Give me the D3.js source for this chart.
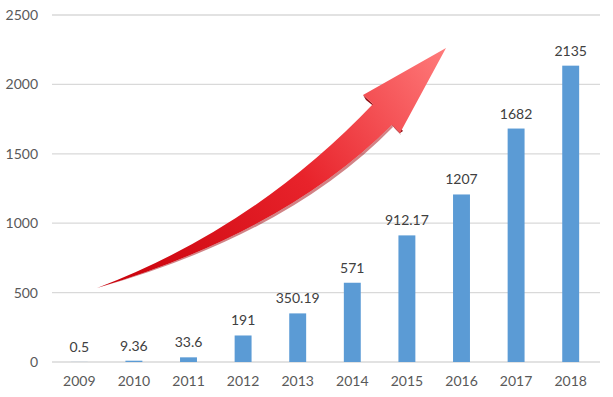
<!DOCTYPE html>
<html><head><meta charset="utf-8">
<script src="https://cdn.jsdelivr.net/npm/d3@7"></script>
<style>body{margin:0;background:#fff}svg{display:block}</style>
</head><body>
<script>
const years = ["2009","2010","2011","2012","2013","2014","2015","2016","2017","2018"];
const values = [0.5, 9.36, 33.6, 191, 350.19, 571, 912.17, 1207, 1682, 2135];
const labels = ["0.5","9.36","33.6","191","350.19","571","912.17","1207","1682","2135"];
const yTicks = [0, 500, 1000, 1500, 2000, 2500];

const W = 613, H = 397;
const svg = d3.select("body").append("svg").attr("width", W).attr("height", H);
const x = d3.scaleBand().domain(years).range([52, 598]).paddingInner(0.69).paddingOuter(0.345);
const y = d3.scaleLinear().domain([0, 2500]).range([362, 15]);
const font = "Lato, 'Open Sans', sans-serif";

// grid
svg.append("g").selectAll("line").data(yTicks).join("line")
  .attr("x1", 52).attr("x2", 600)
  .attr("y1", d => y(d)).attr("y2", d => y(d))
  .attr("stroke", "#d9d9d9").attr("stroke-width", 1.3);

// y axis labels
const ya = svg.append("g").attr("transform", "translate(38,0)")
  .call(d3.axisLeft(y).tickValues(yTicks).tickFormat(d3.format("d")).tickSize(0).tickPadding(0));
ya.select(".domain").remove();
ya.selectAll("text").attr("font-family", font).attr("font-size", 14).attr("fill", "#595959");

// x axis labels
const xa = svg.append("g").attr("transform", "translate(0,370)")
  .call(d3.axisBottom(x).tickSize(0).tickPadding(6));
xa.select(".domain").remove();
xa.selectAll("text").attr("font-family", font).attr("font-size", 14).attr("fill", "#595959");

// bars
svg.append("g").selectAll("rect").data(values).join("rect")
  .attr("x", (d, i) => x(years[i])).attr("width", x.bandwidth())
  .attr("y", d => y(d)).attr("height", d => y(0) - y(d))
  .attr("fill", "#5b9bd5");

// value labels
svg.append("g").selectAll("text").data(values).join("text")
  .attr("x", (d, i) => x(years[i]) + x.bandwidth() / 2)
  .attr("y", d => y(d) - 10)
  .attr("text-anchor", "middle")
  .attr("font-family", font).attr("font-size", 14).attr("fill", "#404040")
  .text((d, i) => labels[i]);

// arrow
const defs = svg.append("defs");
const g = defs.append("linearGradient").attr("id", "ag")
  .attr("gradientUnits", "userSpaceOnUse").attr("x1", 97).attr("y1", 288).attr("x2", 446).attr("y2", 48);
g.append("stop").attr("offset", 0).attr("stop-color", "#c8000a");
g.append("stop").attr("offset", 0.55).attr("stop-color", "#e8232b");
g.append("stop").attr("offset", 1).attr("stop-color", "#ff7b7b");

// darker 3D sides of barbs
svg.append("path")
  .attr("d", "M363,95 L366,100 L376,108 L373,104 Z M400,133 L403,131 L395,122 L392,125 Z")
  .attr("fill", "#8a0a0f");
svg.append("path")
  .attr("d", "M97,288 Q255,228 373,104 L363,95 L446,48 L400,133 L392,125 Q285,232 97,288 Z")
  .attr("fill", "url(#ag)");
svg.append("path")
  .attr("d", "M400,133 L392,125 L395,129 L401,135 Z M392,125 Q285,232 97,288 Q289,234 393,127 Z")
  .attr("fill", "#a3070d").attr("opacity", 0.5);
</script>
</body></html>
